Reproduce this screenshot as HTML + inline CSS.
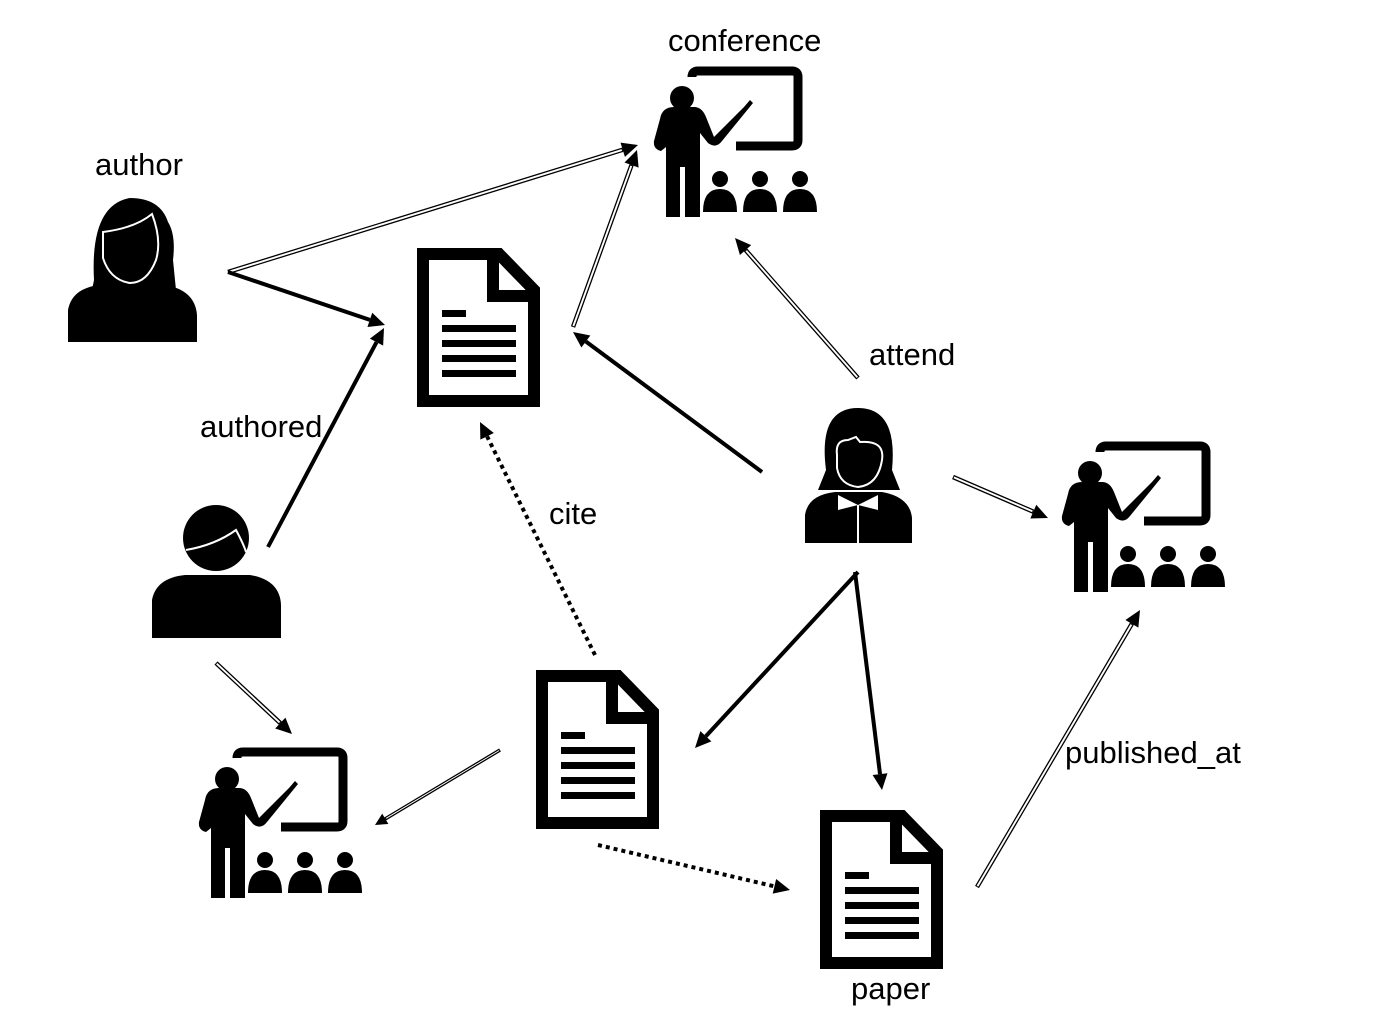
<!DOCTYPE html>
<html><head><meta charset="utf-8"><style>
html,body{margin:0;padding:0;background:#fff;width:1400px;height:1024px;overflow:hidden}
svg{position:absolute;left:0;top:0}
text{font-family:"Liberation Sans",sans-serif;font-size:31px;fill:#000}
</style></head><body>
<svg id="s" width="1400" height="1024" viewBox="0 0 1400 1024">
<defs>
<g id="conf">
 <path d="M42 10 Q42 4 48 4 H142 Q148 4 148 10 V73 Q148 79 142 79 H86" fill="none" stroke="#000" stroke-width="9"/>
 <circle cx="32" cy="31" r="12"/>
 <path d="M10 52 Q12 40 24 40 H44 Q52 40 56 50 L64 70 L94 40 L100 33 L103 36 L72 74 Q66 82 58 76 L50 66 V150 H35 V100 H30 V150 H16 V80 L11 84 Q3 82 4 74 Z"/>
 <circle cx="70" cy="112" r="8"/><path d="M53 145 Q53 122 70 122 Q87 122 87 145 Z"/>
 <circle cx="110" cy="112" r="8"/><path d="M93 145 Q93 122 110 122 Q127 122 127 145 Z"/>
 <circle cx="150" cy="112" r="8"/><path d="M133 145 Q133 122 150 122 Q167 122 167 145 Z"/>
</g>
<g id="doc">
 <path d="M6 6 H82 L117 42 V153 H6 Z" fill="none" stroke="#000" stroke-width="12" stroke-linejoin="miter"/>
 <path d="M76 6 V48 H117" fill="none" stroke="#000" stroke-width="12"/>
 <rect x="25" y="62" width="24" height="7"/>
 <rect x="25" y="77" width="74" height="7"/>
 <rect x="25" y="92" width="74" height="7"/>
 <rect x="25" y="107" width="74" height="7"/>
 <rect x="25" y="122" width="74" height="7"/>
</g>
</defs>

<!-- female author -->
<g>
 <path d="M94 280 Q90 205 130 198 Q160 198 168 222 Q176 235 173 260 L176 290 L92 290 Z"/>
 <path d="M68 310 Q72 288 100 285 L165 285 Q195 290 197 315 V342 H68 Z"/>
 <path d="M103 232 Q135 228 152 214 Q162 240 156 260 Q147 283 130 283 Q110 280 103 258 Z" fill="#000" stroke="#fff" stroke-width="2"/>
</g>
<!-- male author -->
<g>
 <circle cx="216" cy="538" r="33"/>
 <path d="M186 550 Q215 545 236 530 Q244 545 246 552" fill="none" stroke="#fff" stroke-width="2"/>
 <path d="M152 600 Q156 578 185 575 L250 575 Q280 580 281 605 V638 H152 Z"/>
</g>
<!-- female presenter -->
<g>
 <path d="M826 470 Q818 408 858 408 Q898 408 892 470 L900 490 H818 Z"/>
 <path d="M837 455 Q835 440 848 440 L856 437 L860 442 Q885 440 882 460 Q878 485 858 487 Q840 485 837 468 Z" fill="#000" stroke="#fff" stroke-width="2"/>
 <path d="M805 515 Q808 495 835 492 L882 492 Q910 497 912 518 V543 H805 Z"/>
 <path d="M838 495 L858 505 L878 495 L878 510 L858 505 L838 510 Z" fill="#fff"/>
 <line x1="858" y1="505" x2="858" y2="543" stroke="#fff" stroke-width="2"/>
</g>

<use href="#conf" x="650" y="67"/>
<use href="#conf" x="1058" y="442"/>
<use href="#conf" x="195" y="748"/>
<use href="#doc" x="417" y="248"/>
<use href="#doc" x="536" y="670"/>
<use href="#doc" x="820" y="810"/>

<g id="edges"></g>

<text x="668" y="51">conference</text>
<text x="95" y="175">author</text>
<text x="200" y="437">authored</text>
<text x="869" y="365">attend</text>
<text x="549" y="524">cite</text>
<text x="1065" y="763">published_at</text>
<text x="851" y="999">paper</text>
</svg>
<script>
var NS="http://www.w3.org/2000/svg",g=document.getElementById("edges");
function el(n,a){var e=document.createElementNS(NS,n);for(var k in a)e.setAttribute(k,a[k]);g.appendChild(e);return e;}
function arrow(x1,y1,x2,y2,type){
 var dx=x2-x1,dy=y2-y1,L=Math.hypot(dx,dy),ux=dx/L,uy=dy/L,px=-uy,py=ux;
 var hl=type=="thin"?12:16,hw=type=="thin"?6:7.5;
 var bx=x2-ux*hl,by=y2-uy*hl;
 if(type=="thick"){el("line",{x1:x1,y1:y1,x2:bx,y2:by,stroke:"#000","stroke-width":4});}
 else if(type=="dot"){el("line",{x1:x1,y1:y1,x2:bx,y2:by,stroke:"#000","stroke-width":4,"stroke-dasharray":"4 4"});}
 else {var w=type=="thin"?3.5:4.5;
  el("line",{x1:x1,y1:y1,x2:bx,y2:by,stroke:"#000","stroke-width":w});
  el("line",{x1:x1+ux*1,y1:y1+uy*1,x2:bx-ux*1,y2:by-uy*1,stroke:"#fff","stroke-width":w-2.6});}
 el("path",{d:"M"+x2+" "+y2+" L"+(bx+px*hw)+" "+(by+py*hw)+" L"+(bx-px*hw)+" "+(by-py*hw)+"Z",fill:"#000"});
}
arrow(228,272,638,145,"dbl");
arrow(228,272,385,325,"thick");
arrow(268,547,384,328,"thick");
arrow(573,327,637,150,"dbl");
arrow(762,472,573,332,"thick");
arrow(858,378,735,238,"dbl");
arrow(953,477,1048,518,"dbl");
arrow(858,572,695,748,"thick");
arrow(855,572,882,790,"thick");
arrow(595,655,480,422,"dot");
arrow(500,750,375,825,"thin");
arrow(216,663,292,734,"dbl");
arrow(598,845,790,890,"dot");
arrow(977,887,1140,610,"dbl");
</script>
</body></html>
